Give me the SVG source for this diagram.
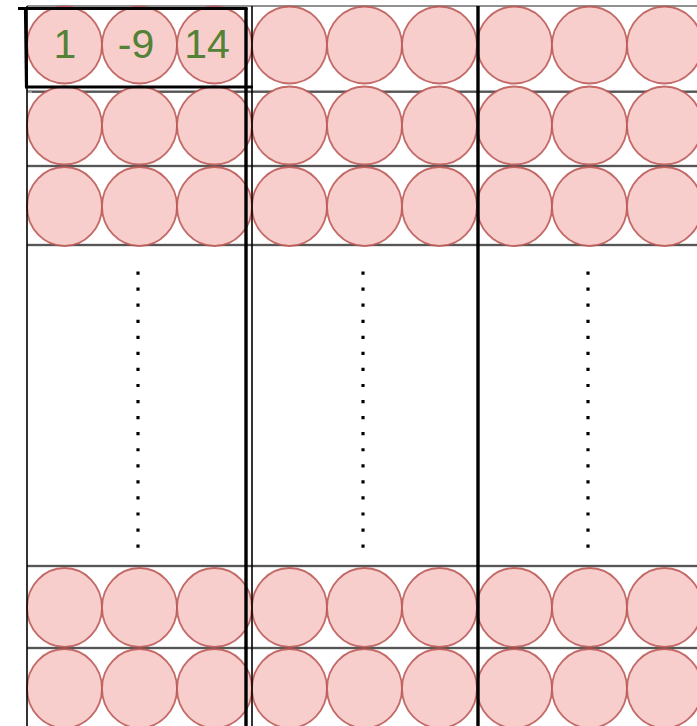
<svg xmlns="http://www.w3.org/2000/svg" width="697" height="726" viewBox="0 0 697 726">
<style>
.c{fill:#f8cecc;stroke:#b85450;stroke-width:1.8;stroke-opacity:0.85}
.h{stroke:#8a8a8a;stroke-width:2.4;fill:none}
.hb{stroke:#222;stroke-width:1;fill:none}
.v{stroke:#000;stroke-width:1.6;fill:none}
.vt{stroke:#000;stroke-width:3.4;fill:none}
.d{stroke:#000;stroke-width:3.2;stroke-dasharray:3.2 12.86;fill:none}
.t{font-family:"Liberation Sans",Arial,sans-serif;font-size:41px;fill:#538135;text-anchor:middle}
</style>
<rect width="697" height="726" fill="#fff"/>
<g id="connectors">
<line class="hb" x1="27" y1="6" x2="697" y2="6" stroke-width="1.6"/>
<line class="h" x1="27" y1="91.5" x2="697" y2="91.5"/>
<line class="hb" x1="32" y1="92" x2="697" y2="92"/>
<line class="h" x1="27" y1="166" x2="697" y2="166"/>
<line class="hb" x1="27" y1="166" x2="697" y2="166"/>
<line class="h" x1="27" y1="245" x2="697" y2="245"/>
<line class="hb" x1="27" y1="245" x2="697" y2="245"/>
<line class="h" x1="27" y1="566" x2="697" y2="566"/>
<line class="hb" x1="27" y1="566" x2="697" y2="566"/>
<line class="h" x1="27" y1="648" x2="697" y2="648"/>
<line class="hb" x1="27" y1="648" x2="697" y2="648"/>
</g>
<g id="row1-a"><ellipse class="c" cx="64.5" cy="45" rx="37.5" ry="38.5"/><ellipse class="c" cx="139.5" cy="45" rx="37.5" ry="38.5"/><ellipse class="c" cx="214.5" cy="45" rx="37.5" ry="38.5"/></g>
<g id="row1-b"><ellipse class="c" cx="289.5" cy="45" rx="37.5" ry="38.5"/><ellipse class="c" cx="364.5" cy="45" rx="37.5" ry="38.5"/><ellipse class="c" cx="439.5" cy="45" rx="37.5" ry="38.5"/></g>
<g id="row1-c"><ellipse class="c" cx="514.5" cy="45" rx="37.5" ry="38.5"/><ellipse class="c" cx="589.5" cy="45" rx="37.5" ry="38.5"/><ellipse class="c" cx="664.5" cy="45" rx="37.5" ry="38.5"/></g>
<g id="row2-a"><ellipse class="c" cx="64.5" cy="125.5" rx="37.5" ry="39"/><ellipse class="c" cx="139.5" cy="125.5" rx="37.5" ry="39"/><ellipse class="c" cx="214.5" cy="125.5" rx="37.5" ry="39"/></g>
<g id="row2-b"><ellipse class="c" cx="289.5" cy="125.5" rx="37.5" ry="39"/><ellipse class="c" cx="364.5" cy="125.5" rx="37.5" ry="39"/><ellipse class="c" cx="439.5" cy="125.5" rx="37.5" ry="39"/></g>
<g id="row2-c"><ellipse class="c" cx="514.5" cy="125.5" rx="37.5" ry="39"/><ellipse class="c" cx="589.5" cy="125.5" rx="37.5" ry="39"/><ellipse class="c" cx="664.5" cy="125.5" rx="37.5" ry="39"/></g>
<g id="row3-a"><ellipse class="c" cx="64.5" cy="206.5" rx="37.5" ry="39.5"/><ellipse class="c" cx="139.5" cy="206.5" rx="37.5" ry="39.5"/><ellipse class="c" cx="214.5" cy="206.5" rx="37.5" ry="39.5"/></g>
<g id="row3-b"><ellipse class="c" cx="289.5" cy="206.5" rx="37.5" ry="39.5"/><ellipse class="c" cx="364.5" cy="206.5" rx="37.5" ry="39.5"/><ellipse class="c" cx="439.5" cy="206.5" rx="37.5" ry="39.5"/></g>
<g id="row3-c"><ellipse class="c" cx="514.5" cy="206.5" rx="37.5" ry="39.5"/><ellipse class="c" cx="589.5" cy="206.5" rx="37.5" ry="39.5"/><ellipse class="c" cx="664.5" cy="206.5" rx="37.5" ry="39.5"/></g>
<g id="row4-a"><ellipse class="c" cx="64.5" cy="607.5" rx="37.5" ry="39.5"/><ellipse class="c" cx="139.5" cy="607.5" rx="37.5" ry="39.5"/><ellipse class="c" cx="214.5" cy="607.5" rx="37.5" ry="39.5"/></g>
<g id="row4-b"><ellipse class="c" cx="289.5" cy="607.5" rx="37.5" ry="39.5"/><ellipse class="c" cx="364.5" cy="607.5" rx="37.5" ry="39.5"/><ellipse class="c" cx="439.5" cy="607.5" rx="37.5" ry="39.5"/></g>
<g id="row4-c"><ellipse class="c" cx="514.5" cy="607.5" rx="37.5" ry="39.5"/><ellipse class="c" cx="589.5" cy="607.5" rx="37.5" ry="39.5"/><ellipse class="c" cx="664.5" cy="607.5" rx="37.5" ry="39.5"/></g>
<g id="row5-a"><ellipse class="c" cx="64.5" cy="688.5" rx="37.5" ry="39.5"/><ellipse class="c" cx="139.5" cy="688.5" rx="37.5" ry="39.5"/><ellipse class="c" cx="214.5" cy="688.5" rx="37.5" ry="39.5"/></g>
<g id="row5-b"><ellipse class="c" cx="289.5" cy="688.5" rx="37.5" ry="39.5"/><ellipse class="c" cx="364.5" cy="688.5" rx="37.5" ry="39.5"/><ellipse class="c" cx="439.5" cy="688.5" rx="37.5" ry="39.5"/></g>
<g id="row5-c"><ellipse class="c" cx="514.5" cy="688.5" rx="37.5" ry="39.5"/><ellipse class="c" cx="589.5" cy="688.5" rx="37.5" ry="39.5"/><ellipse class="c" cx="664.5" cy="688.5" rx="37.5" ry="39.5"/></g>
<g id="labels">
<text class="t" x="65" y="58">1</text>
<text class="t" x="136" y="58">-9</text>
<text class="t" x="207" y="58">14</text>
</g>
<g id="dots">
<line class="d" x1="138" y1="271.5" x2="138" y2="548"/>
<line class="d" x1="363" y1="271.5" x2="363" y2="548"/>
<line class="d" x1="588" y1="271.5" x2="588" y2="548"/>
</g>
<g id="dividers">
<line class="v" x1="27" y1="6" x2="27" y2="726"/>
<line class="v" x1="252" y1="6" x2="252" y2="726"/>
<line class="vt" x1="246" y1="8" x2="246" y2="726"/>
<line class="vt" x1="478" y1="6" x2="478" y2="726"/>
</g>
<g id="highlight">
<polyline fill="none" stroke="#000" stroke-width="3.2" points="18,8.5 247.5,8.5"/>
<polyline fill="none" stroke="#000" stroke-width="3.2" points="25.5,8.5 26.5,87"/>
<polyline fill="none" stroke="#000" stroke-width="3.2" points="25,87 253,87"/>
</g>
</svg>
